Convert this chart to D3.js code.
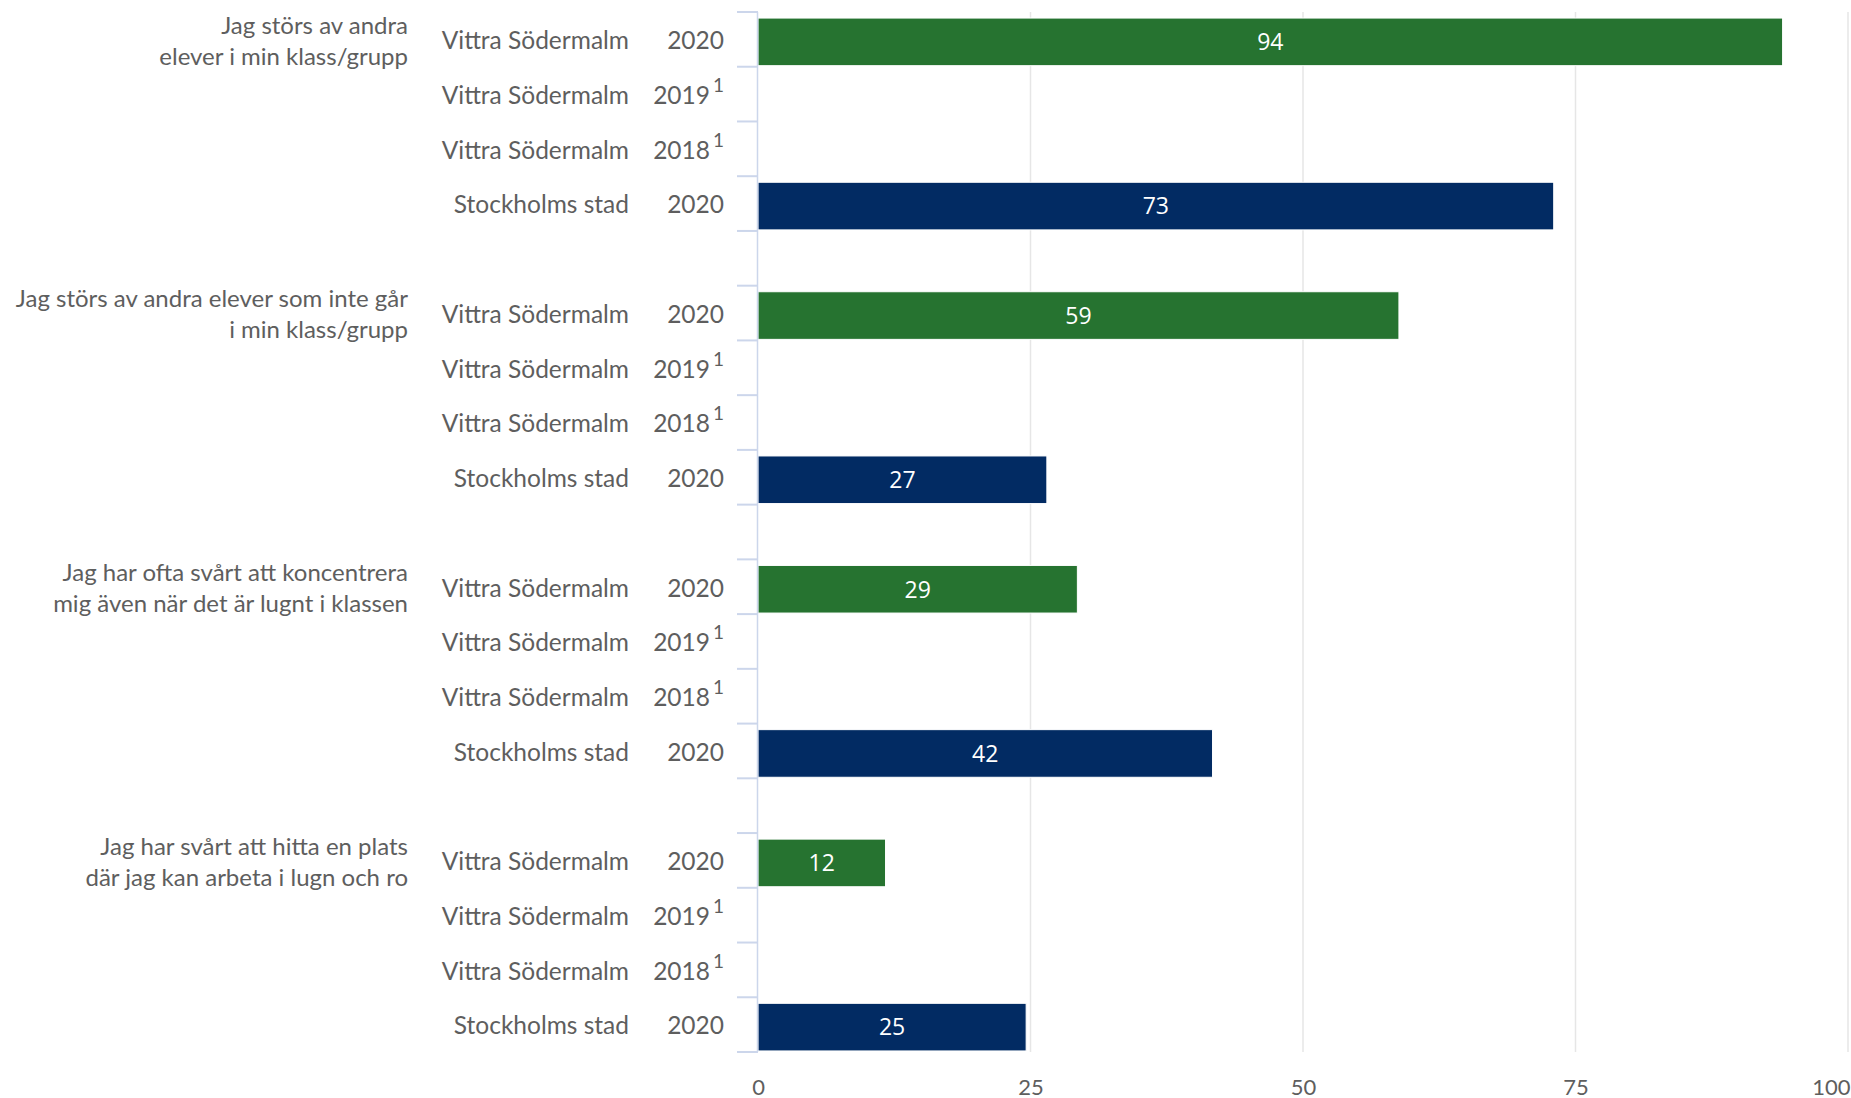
<!DOCTYPE html>
<html>
<head>
<meta charset="utf-8">
<script src="https://cdn.jsdelivr.net/npm/d3@7"></script>
<style>
  html, body { margin: 0; padding: 0; background: #ffffff; }
  svg { display: block; }
  text { font-family: Lato, "Open Sans", sans-serif; }
</style>
</head>
<body>
<svg id="chart" width="1851" height="1098"></svg>
<script>
// ---------- data ----------
const questions = [
  ["Jag störs av andra", "elever i min klass/grupp"],
  ["Jag störs av andra elever som inte går", "i min klass/grupp"],
  ["Jag har ofta svårt att koncentrera", "mig även när det är lugnt i klassen"],
  ["Jag har svårt att hitta en plats", "där jag kan arbeta i lugn och ro"]
];
const rowSchools = ["Vittra Södermalm", "Vittra Södermalm", "Vittra Södermalm", "Stockholms stad"];
const rowYears = ["2020", "2019", "2018", "2020"];
const rowNotes = ["", "1", "1", ""];
const rowColors = ["#267330", "#267330", "#267330", "#022b63"];
const vittra2020 = [94, 58.8, 29.3, 11.7];
const vittra2019 = [null, null, null, null];
const vittra2018 = [null, null, null, null];
const stockholm2020 = [73, 26.5, 41.7, 24.6];
const xTicks = [0, 25, 50, 75, 100];

const seriesByRow = [vittra2020, vittra2019, vittra2018, stockholm2020];

// ---------- layout ----------
const svg = d3.select("#chart");
const W = 1851, H = 1098;
const plot = { left: 758, right: 1848, top: 12, bottom: 1052 };

// slots: 4 rows per group, one spacer slot between groups
const slots = [];
questions.forEach((q, g) => {
  for (let r = 0; r < 4; r++) slots.push({ id: `g${g}r${r}`, g, r });
  if (g < questions.length - 1) slots.push({ id: `gap${g}`, g, r: -1 });
});

const y = d3.scaleBand()
  .domain(slots.map(s => s.id))
  .range([plot.top, plot.bottom])
  .paddingInner(0).paddingOuter(0);

const x = d3.scaleLinear().domain([0, 100]).range([plot.left, plot.right]);

const textColor = "#5e5e5e";
const barShift = 2.5;

// gridlines
svg.append("g")
  .selectAll("line")
  .data(xTicks.filter(t => t > 0))
  .join("line")
  .attr("x1", d => x(d)).attr("x2", d => x(d))
  .attr("y1", plot.top).attr("y2", plot.bottom)
  .attr("stroke", "#e6e6e6").attr("stroke-width", 1.5);

// x axis labels
const xAxis = d3.axisBottom(x).tickValues(xTicks).tickSize(0).tickPadding(0);
const gx = svg.append("g").attr("transform", `translate(0,${plot.bottom + 26})`).call(xAxis);
gx.select(".domain").remove();
gx.selectAll("text")
  .attr("fill", textColor)
  .style("font-size", "22px")
  .style("font-family", "Lato, sans-serif")
  .attr("dy", "0.75em")
  .attr("text-anchor", d => d === 100 ? "end" : "middle")
  .attr("x", d => d === 100 ? (W - 1) - x(100) : 0);

// bars
const barRows = [];
slots.forEach(s => {
  if (s.r < 0) return;
  const v = seriesByRow[s.r][s.g];
  if (v == null) return;
  barRows.push({ id: s.id, v, color: rowColors[s.r] });
});
const barPad = y.bandwidth() * 0.065;
svg.append("g")
  .selectAll("rect")
  .data(barRows)
  .join("rect")
  .attr("x", x(0))
  .attr("y", d => y(d.id) + barPad + barShift)
  .attr("width", d => x(d.v) - x(0))
  .attr("height", y.bandwidth() - 2 * barPad)
  .attr("fill", d => d.color)
  .attr("stroke", "#ffffff").attr("stroke-width", 1);

// data labels
svg.append("g")
  .selectAll("text")
  .data(barRows)
  .join("text")
  .attr("x", d => (x(0) + x(d.v)) / 2)
  .attr("y", d => y(d.id) + y.bandwidth() / 2 + barShift)
  .attr("dy", "0.36em")
  .attr("text-anchor", "middle")
  .attr("fill", "#ffffff")
  .style("font-family", "'Open Sans', sans-serif")
  .style("font-size", "23px")
  .text(d => Math.round(d.v));

// y axis line
svg.append("line")
  .attr("x1", plot.left - 0.5).attr("x2", plot.left - 0.5)
  .attr("y1", plot.top).attr("y2", plot.bottom)
  .attr("stroke", "#ccd6eb").attr("stroke-width", 1.5);

// y ticks at every slot boundary
const boundaries = slots.map(s => y(s.id)).concat([plot.bottom]);
svg.append("g")
  .selectAll("line")
  .data(boundaries)
  .join("line")
  .attr("x1", plot.left - 21).attr("x2", plot.left)
  .attr("y1", d => d).attr("y2", d => d)
  .attr("stroke", "#ccd6eb").attr("stroke-width", 2);

// row labels
const rowSlots = slots.filter(s => s.r >= 0);
const rowG = svg.append("g").style("font-size", "24.5px").attr("fill", textColor);
rowG.selectAll("text.school")
  .data(rowSlots)
  .join("text")
  .attr("class", "school")
  .attr("x", 629)
  .attr("y", d => y(d.id) + y.bandwidth() / 2 + 1)
  .attr("dy", "0.36em")
  .attr("text-anchor", "end")
  .text(d => rowSchools[d.r]);

const yearText = rowG.selectAll("text.year")
  .data(rowSlots)
  .join("text")
  .attr("class", "year")
  .attr("x", 724)
  .attr("y", d => y(d.id) + y.bandwidth() / 2 + 1)
  .attr("dy", "0.36em")
  .attr("text-anchor", "end");
yearText.append("tspan").text(d => rowYears[d.r]);
yearText.filter(d => rowNotes[d.r] !== "")
  .append("tspan")
  .attr("dx", 3)
  .attr("dy", -12)
  .style("font-size", "19px")
  .text(d => rowNotes[d.r]);

// question labels (centered on first row of group)
const qG = svg.append("g").style("font-size", "24px").attr("fill", textColor);
questions.forEach((lines, g) => {
  const cy = y(`g${g}r0`) + y.bandwidth() / 2 + 1;
  const lh = 31;
  const t = qG.append("text").attr("text-anchor", "end");
  lines.forEach((ln, i) => {
    t.append("tspan")
      .attr("x", 408)
      .attr("y", cy + (i - (lines.length - 1) / 2) * lh)
      .attr("dy", "0.36em")
      .text(ln);
  });
});
</script>
</body>
</html>
